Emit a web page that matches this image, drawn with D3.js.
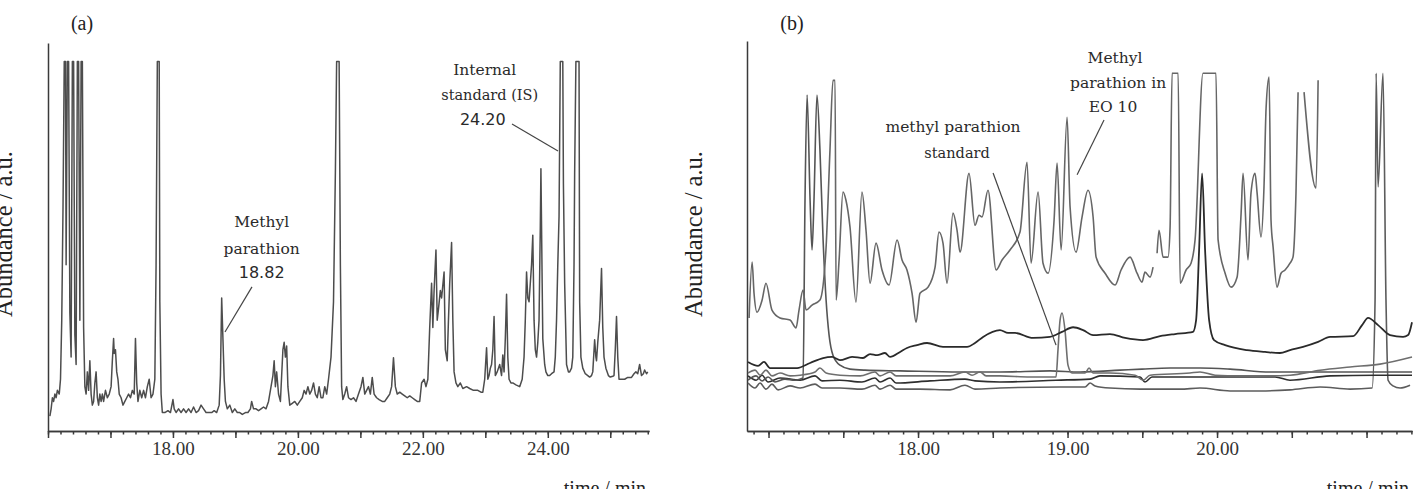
<!DOCTYPE html>
<html lang="en">
<head>
<meta charset="UTF-8">
<title>GC-MS chromatograms (a) and (b)</title>
<script src="https://d3js.org/d3.v7.min.js"></script>
<style>
  body { margin: 0; background: #fff; }
  svg { display: block; }
  .trace { fill: none; stroke-linejoin: round; }
  .axis path, .axis line { stroke: #3a3a3a; stroke-width: 1.5px; }
  .tick text { font-family: "Liberation Serif", serif; font-size: 19px; fill: #333; }
  .note { font-family: "DejaVu Serif", serif; font-size: 15.5px; fill: #2a2a2a; }
  .num { font-family: "DejaVu Sans", sans-serif; font-size: 16px; fill: #2a2a2a; }
  .title { font-family: "Liberation Serif", serif; fill: #222; }
  .leader { stroke: #444; stroke-width: 1.2px; }
</style>
</head>
<body>
<svg id="chart" width="1417" height="489"></svg>
<script>
// ---- data (time in min, abundance in a.u., 100 = detector full scale) ----
const ticksA = [18, 20, 22, 24];
const ticksB = [18, 19, 20];

// (a) full chromatogram of the spiked sample
const chromA = [
  [16.03,4],[16.05,6],[16.07,9],[16.09,8],[16.11,10],[16.13,9],[16.15,11],[16.18,10],[16.20,14],
  [16.22,30],[16.24,60],[16.26,100],[16.28,100],[16.29,45],[16.31,100],[16.33,100],[16.35,32],
  [16.37,20],[16.39,100],[16.41,100],[16.43,26],[16.45,18],[16.47,100],[16.49,100],[16.51,30],
  [16.53,100],[16.55,100],[16.57,28],[16.59,12],[16.61,10],[16.63,16],[16.65,11],[16.67,19],
  [16.69,10],[16.71,7],[16.73,8],[16.75,13],[16.77,16],[16.79,9],[16.81,7],[16.83,10],[16.85,8],
  [16.87,10],[16.89,8],[16.92,11],[16.95,9],[16.98,10],[17.01,12],[17.03,19],[17.05,25],[17.06,21],
  [17.08,22],[17.10,16],[17.12,14],[17.14,10],[17.17,9],[17.20,7],[17.23,8],[17.26,9],[17.29,10],
  [17.32,9],[17.35,11],[17.38,10],[17.40,25],[17.42,13],[17.44,8],[17.47,11],[17.50,9],[17.53,11],
  [17.56,9],[17.59,12],[17.62,14],[17.65,9],[17.68,10],[17.71,14],[17.73,45],[17.75,100],[17.78,100],
  [17.79,35],[17.81,10],[17.83,5],[17.87,5],[17.92,5.5],[17.96,5],[18.00,8.5],[18.02,6],[18.05,5],
  [18.09,6],[18.13,5],[18.17,6],[18.21,5],[18.25,6],[18.29,5],[18.33,6.5],[18.37,5],[18.41,5.5],
  [18.45,7],[18.49,6],[18.53,5],[18.58,5],[18.62,5],[18.66,5.5],[18.70,5],[18.74,7],[18.76,15],
  [18.78,36],[18.80,25],[18.82,14],[18.84,8],[18.87,6],[18.91,7],[18.95,5],[18.99,6],[19.03,5],
  [19.07,5],[19.11,4.5],[19.16,5],[19.20,5],[19.24,6],[19.26,8],[19.29,6],[19.33,6],[19.37,5.5],
  [19.41,6],[19.45,6.5],[19.49,6],[19.53,8],[19.57,12],[19.60,15],[19.62,19],[19.64,12],[19.66,16],
  [19.69,10],[19.72,8],[19.74,15],[19.76,22],[19.78,24],[19.80,20],[19.82,23],[19.84,12],[19.87,7],
  [19.91,7.5],[19.95,8],[19.99,7],[20.03,8],[20.07,9],[20.10,11],[20.13,10],[20.16,12],[20.19,10],
  [20.22,11],[20.25,13],[20.28,10],[20.31,9],[20.34,12],[20.37,9],[20.40,9],[20.43,12],[20.46,10],
  [20.49,14],[20.53,20],[20.57,35],[20.60,70],[20.62,100],[20.66,100],[20.68,45],[20.70,12],
  [20.72,8.5],[20.75,10],[20.78,12],[20.81,9],[20.85,8.5],[20.89,9],[20.93,8],[20.97,10],[21.01,12],
  [21.04,14.5],[21.07,10],[21.10,11],[21.13,12],[21.16,10],[21.19,14.5],[21.22,10],[21.26,9],
  [21.30,8.5],[21.35,8],[21.39,8],[21.43,9],[21.47,10],[21.50,12],[21.53,19.8],[21.56,12],[21.59,10],
  [21.63,10.5],[21.67,10],[21.71,9.5],[21.75,9],[21.79,9.5],[21.83,9],[21.87,8.5],[21.91,8],
  [21.95,8],[21.98,13],[22.02,14],[22.05,12],[22.08,14],[22.11,28],[22.14,40],[22.16,28],[22.18,38],
  [22.21,49],[22.23,30],[22.25,33],[22.28,38],[22.30,36],[22.34,43],[22.36,22],[22.39,19],[22.41,30],
  [22.43,40],[22.46,51],[22.48,30],[22.50,16],[22.53,13],[22.56,12],[22.60,13],[22.64,11.5],
  [22.70,12],[22.75,11.5],[22.81,11],[22.88,11],[22.93,10.5],[22.96,10.5],[22.99,14],[23.02,22.5],
  [23.04,14],[23.06,15],[23.08,17],[23.10,18],[23.12,22],[23.14,31],[23.16,15],[23.19,16],[23.21,17],
  [23.23,18],[23.26,15],[23.28,20.6],[23.30,16],[23.32,25],[23.34,37],[23.36,20],[23.38,14],
  [23.41,13],[23.44,13],[23.49,12.5],[23.55,12],[23.59,14],[23.62,20],[23.64,30],[23.66,43],
  [23.68,36],[23.70,35],[23.72,40],[23.74,45],[23.76,53],[23.78,30],[23.80,22],[23.82,20],[23.84,24],
  [23.86,30],[23.88,55],[23.89,71],[23.91,40],[23.92,25],[23.95,18],[23.97,16],[24.00,15],[24.03,15],
  [24.06,15.5],[24.10,16],[24.12,20],[24.14,30],[24.16,45],[24.18,58],[24.20,100],[24.24,100],
  [24.25,67],[24.27,40],[24.30,18],[24.33,16],[24.35,16],[24.38,17],[24.40,20],[24.42,45],[24.43,70],
  [24.45,100],[24.50,100],[24.51,35],[24.53,20],[24.56,17],[24.60,15.5],[24.64,15],[24.67,14.6],
  [24.70,15],[24.72,16],[24.75,24.7],[24.77,20],[24.78,19],[24.80,24],[24.83,30],[24.86,44],
  [24.88,28],[24.90,20],[24.93,17],[24.97,15],[25.00,14.6],[25.04,14.8],[25.06,15],[25.08,22],
  [25.10,31],[25.12,20],[25.14,14],[25.18,14],[25.23,14],[25.28,14.5],[25.34,14.5],[25.38,15.5],
  [25.41,16],[25.44,15.5],[25.47,18],[25.50,15],[25.53,15.5],[25.55,16.5],[25.58,15.5],[25.60,16]
];

// (b) essential oil EO 10 (sample), with two breaks in the record
const sampleEO10 = [
  [16.870,31.6],[16.890,47.2],[16.903,38.5],[16.923,33.2],[16.957,36.6],[16.983,41.3],[17.023,33.8],
  [17.077,31.6],[17.144,31.0],[17.184,28.8],[17.204,33.8],[17.231,39.4],[17.251,33.8],[17.291,35.2],
  [17.344,36.6],[17.384,50.6],[17.411,78.5],[17.431,98],[17.445,98],[17.452,36.6],[17.472,47.8],
  [17.498,66.8],[17.518,64.5],[17.545,57],[17.585,36],[17.625,66.8],[17.652,56.1],[17.679,41.3],
  [17.719,52.5],[17.759,45],[17.806,40.8],[17.860,53.4],[17.893,47.8],[17.926,45],[17.960,38.5],
  [17.987,30.4],[18.013,38.5],[18.067,40.2],[18.114,45.8],[18.140,55.6],[18.167,52.5],[18.194,41.3],
  [18.234,60.9],[18.261,56.1],[18.281,50],[18.341,72],[18.381,57.5],[18.408,60.3],[18.428,59.8],
  [18.468,67.3],[18.522,45],[18.562,47.8],[18.615,50.6],[18.682,55.6],[18.729,75.1],[18.756,46.9],
  [18.803,66.8],[18.836,46.9],[18.870,44.1],[18.910,58.9],[18.930,74.9],[18.957,50.6],[18.997,87.7],
  [19.017,62.6],[19.057,50],[19.097,59.8],[19.137,67.3],[19.171,59.8],[19.191,48.6],[19.251,44.1],
  [19.318,40.8],[19.358,45],[19.418,48.6],[19.465,44.1],[19.498,41.6],[19.518,44.4],[19.552,43],
  [19.572,45.8],[19.585,null],[19.599,49.7],[19.612,56.1],[19.639,48.6],[19.672,48.6],[19.686,57],
  [19.699,100],[19.740,100],[19.753,41.3],[19.793,45],[19.826,46.9],[19.853,53.4],[19.906,100],
  [19.993,100],[20.007,53.4],[20.054,44.1],[20.094,40.2],[20.134,43],[20.161,60.9],[20.174,72],
  [20.207,47.8],[20.227,66.5],[20.254,72],[20.268,66.5],[20.294,54.2],[20.314,68.2],[20.328,90.2],
  [20.348,98.9],[20.361,58.9],[20.375,51.4],[20.401,40.2],[20.428,44.1],[20.455,45],[20.488,46.9],
  [20.508,48.6],[20.528,66.5],[20.542,94.7],[20.560,null],[20.582,94.7],[20.662,67.9],[20.676,98]
];

// (b) upper baseline trace with the 19.9 min peak
const upperTrace = [
  [16.863,19.3],[16.930,18.2],[16.970,19.3],[17.010,17.6],[17.077,17.6],[17.191,17.6],[17.278,19],
  [17.365,20.4],[17.425,20.7],[17.478,19.8],[17.559,20.7],[17.632,20.4],[17.679,21.5],[17.726,21.2],
  [17.779,21.8],[17.813,20.7],[17.880,22.1],[17.926,23.2],[17.993,24],[18.060,24.6],[18.167,23.5],
  [18.328,23.5],[18.381,24.6],[18.435,26.3],[18.548,28.2],[18.602,27.4],[18.649,27.4],[18.769,26],
  [18.883,26.3],[18.963,27.7],[19.037,29],[19.104,28.2],[19.171,26.8],[19.284,27.1],[19.385,26],
  [19.505,25.4],[19.619,26.5],[19.719,27.1],[19.839,27.7],[19.860,31],[19.880,50.6],[19.900,72],
  [19.920,50.6],[19.947,31],[19.980,25.4],[20.054,24],[20.201,22.6],[20.321,22.1],[20.421,21.8],
  [20.488,22.6],[20.575,23.5],[20.676,24.9],[20.756,26.3],[20.910,26.5],[20.970,29.6],[21.010,31.6],
  [21.077,29.6],[21.157,26.8],[21.244,26.3],[21.278,26.8],[21.304,30.4]
];

// (b) methyl parathion standard (peak at 18.96 min)
const standardTrace = [
  [16.863,16.2],[16.910,17],[16.943,15.6],[16.983,17],[17.023,15.4],[17.077,16.2],[17.144,15.4],
  [17.211,15.6],[17.311,16.5],[17.344,17.6],[17.385,16.2],[17.478,15.6],[17.612,15.4],[17.712,16.5],
  [17.746,15.4],[17.813,16.5],[17.853,15.4],[18.013,15.4],[18.214,15.4],[18.314,16.5],[18.361,15.6],
  [18.415,16.5],[18.455,15.4],[18.548,15.4],[18.749,15.1],[18.923,15.1],[18.936,22.6],[18.950,31],
  [18.963,33],[18.983,28.2],[19.003,18.4],[19.030,16.2],[19.117,16.2],[19.144,17.6],[19.171,16.2],
  [19.284,16.2],[19.452,15.6],[19.505,14.2],[19.552,15.6],[19.819,16.2],[19.886,16.5],[19.987,15.6],
  [20.154,15.4],[20.288,15.4],[20.488,15.6],[20.689,17],[20.890,17.9],[21.090,18.7],[21.304,20.7]
];

// (b) trace with the large early peak at 17.3 min
const earlyTrace = [
  [16.863,14.2],[16.917,15.4],[16.957,14],[16.997,15.1],[17.043,13.7],[17.110,14.5],[17.177,14.2],
  [17.231,14.8],[17.244,64.5],[17.258,93.9],[17.278,64.5],[17.291,50.6],[17.304,64.5],[17.324,93.9],
  [17.344,78.5],[17.365,53.4],[17.385,36.6],[17.405,26.8],[17.431,21.2],[17.478,18.4],[17.545,17.3],
  [17.645,17],[17.880,16.8],[18.281,16.5],[18.548,16.5],[18.883,16.8],[19.084,16.5],[19.351,17],
  [19.498,17.3],[19.686,17.6],[19.886,17.6],[20.087,17.3],[20.355,16.5],[20.622,16.5],[20.890,16.5],
  [21.304,16.5]
];

// (b) middle flat trace
const midTrace = [
  [16.863,15.4],[16.917,14.2],[16.957,15.6],[16.997,13.7],[17.077,14.8],[17.211,14.2],[17.311,15.4],
  [17.358,14],[17.478,14.2],[17.625,13.7],[17.712,14.8],[17.746,13.7],[17.813,14.8],[17.853,13.4],
  [18.080,14],[18.314,14.5],[18.381,14],[18.548,13.7],[18.923,14.2],[19.151,14.5],[19.217,15.4],
  [19.485,15.1],[19.518,13.7],[19.565,15.1],[19.819,15.1],[20.154,15.1],[20.388,15.1],[20.488,14.2],
  [20.756,15.4],[21.057,15.6],[21.304,15.6]
];

// (b) lowest trace with the 21.1 min peak
const lowTrace = [
  [16.863,13.4],[16.910,12],[16.943,13.4],[16.983,11.7],[17.023,13.1],[17.064,11.5],[17.144,12.6],
  [17.211,12],[17.311,13.1],[17.358,12],[17.478,12],[17.625,11.7],[17.712,12.8],[17.746,11.7],
  [17.813,12.8],[17.853,11.7],[18.013,11.7],[18.214,11.5],[18.314,12.8],[18.381,11.7],[18.548,12],
  [18.950,12.3],[19.117,12.3],[19.151,13.4],[19.184,12.6],[19.284,12],[19.485,11.7],[19.753,11.7],
  [19.886,12],[20.087,11.2],[20.288,11.2],[20.488,11.5],[20.689,12.3],[20.890,11.7],[21.037,12],
  [21.057,36.6],[21.064,100],[21.077,68.2],[21.110,100],[21.130,36.6],[21.144,14.2],[21.177,12.6],
  [21.224,12],[21.291,12.8]
];

// annotations: text lines with their data-space anchors, and leader lines
const notesA = [
  { cls: "note", text: "Methyl",        t: 19.42, v: 56.6 },
  { cls: "note", text: "parathion",     t: 19.42, v: 49.5 },
  { cls: "num",  text: "18.82",         t: 19.42, v: 43.0 },
  { cls: "note", text: "Internal",      t: 22.99, v: 97.7 },
  { cls: "note", text: "standard (IS)", t: 23.07, v: 90.9, small: true },
  { cls: "num",  text: "24.20",         t: 22.96, v: 84.2 }
];
const leadersA = [
  [[19.265, 39.0], [18.833, 26.8]],
  [[23.427, 83.1], [24.164, 75.8]]
];
const notesB = [
  { cls: "note", text: "methyl parathion", t: 18.234, v: 85.0 },
  { cls: "note", text: "standard",         t: 18.261, v: 77.7, small: true },
  { cls: "note", text: "Methyl",           t: 19.318, v: 104.5 },
  { cls: "note", text: "parathion in",     t: 19.338, v: 97.5 },
  { cls: "note", text: "EO 10",            t: 19.304, v: 90.6 }
];
const leadersB = [
  [[18.502, 72.1], [18.923, 24.0]],
  [[19.244, 86.9], [19.064, 71.6]]
];

// ---- drawing ----
const svg = d3.select("#chart");

function drawPanel(p) {
  const x = d3.scaleLinear().domain(p.xDomain).range(p.xRange);
  const y = d3.scaleLinear().domain(p.yDomain).range([431, p.yTop]);
  const g = svg.append("g");

  // y axis (plain line, no ticks)
  g.append("g").attr("class", "axis")
    .attr("transform", `translate(${p.xRange[0]},0)`)
    .call(d3.axisLeft(y).tickValues([]).tickSizeOuter(0));

  // x axis: minor, major, labelled
  const ax = g.append("g").attr("transform", "translate(0,431)");
  ax.append("g").attr("class", "axis")
    .call(d3.axisBottom(x).tickValues(p.minor).tickSize(3.5).tickFormat("").tickSizeOuter(0));
  ax.append("g").attr("class", "axis")
    .call(d3.axisBottom(x).tickValues(p.major).tickSize(7).tickFormat("").tickSizeOuter(0));
  ax.append("g").attr("class", "axis")
    .call(d3.axisBottom(x).tickValues(p.labels).tickSize(0).tickPadding(11).tickFormat(d3.format(".2f")))
    .call(s => s.select(".domain").remove());

  const line = d3.line()
    .defined(d => d[1] != null)
    .curve(p.curve)
    .x(d => x(d[0]))
    .y(d => y(Math.min(d[1], 100)));

  p.traces.forEach(tr => {
    g.append("path").attr("class", "trace")
      .attr("d", line(tr.data))
      .attr("stroke", tr.color)
      .attr("stroke-width", tr.width);
  });

  p.leaders.forEach(l => {
    g.append("line").attr("class", "leader")
      .attr("x1", x(l[0][0])).attr("y1", y(l[0][1]))
      .attr("x2", x(l[1][0])).attr("y2", y(l[1][1]));
  });

  g.selectAll("text.ann").data(p.notes).enter().append("text")
    .attr("class", d => d.cls)
    .attr("text-anchor", "middle")
    .attr("x", d => x(d.t))
    .attr("y", d => y(d.v))
    .attr("dy", "0.35em")
    .style("font-size", d => d.small ? "14.5px" : null)
    .text(d => d.text);

  // panel letter, axis titles
  g.append("text").attr("class", "title")
    .attr("x", p.letterX).attr("y", 30).attr("text-anchor", "middle")
    .style("font-size", "20px").text(p.letter);
  g.append("text").attr("class", "title")
    .attr("transform", `translate(${p.yLabelX},234) rotate(-90)`)
    .attr("text-anchor", "middle").style("font-size", "24.5px")
    .text("Abundance / a.u.");
  g.append("text").attr("class", "title")
    .attr("x", p.xRange[1] - 3).attr("y", 495).attr("text-anchor", "end")
    .style("font-size", "20px").text("time / min");
}

drawPanel({
  xDomain: [16.0, 25.62], xRange: [48, 649],
  yDomain: [0, 105], yTop: 43,
  minor: d3.range(0, 49).map(i => 16 + i * 0.2),
  major: d3.range(16, 26),
  labels: ticksA,
  curve: d3.curveLinear,
  traces: [{ data: chromA, color: "#4d4d4d", width: 1.5 }],
  notes: notesA, leaders: leadersA,
  letter: "(a)", letterX: 82, yLabelX: 12
});

drawPanel({
  xDomain: [16.856, 21.304], xRange: [747, 1412],
  yDomain: [0, 109], yTop: 41,
  minor: d3.range(169, 214).map(i => i / 10),
  major: d3.range(34, 43).map(i => i / 2),
  labels: ticksB,
  curve: d3.curveMonotoneX,
  traces: [
    { data: lowTrace,      color: "#5c5c5c", width: 1.6 },
    { data: midTrace,      color: "#2e2e2e", width: 1.6 },
    { data: earlyTrace,    color: "#555",    width: 1.6 },
    { data: standardTrace, color: "#6e6e6e", width: 1.6 },
    { data: upperTrace,    color: "#2a2a2a", width: 1.8 },
    { data: sampleEO10,    color: "#666",    width: 1.6 }
  ],
  notes: notesB, leaders: leadersB,
  letter: "(b)", letterX: 792, yLabelX: 702
});
</script>
</body>
</html>
